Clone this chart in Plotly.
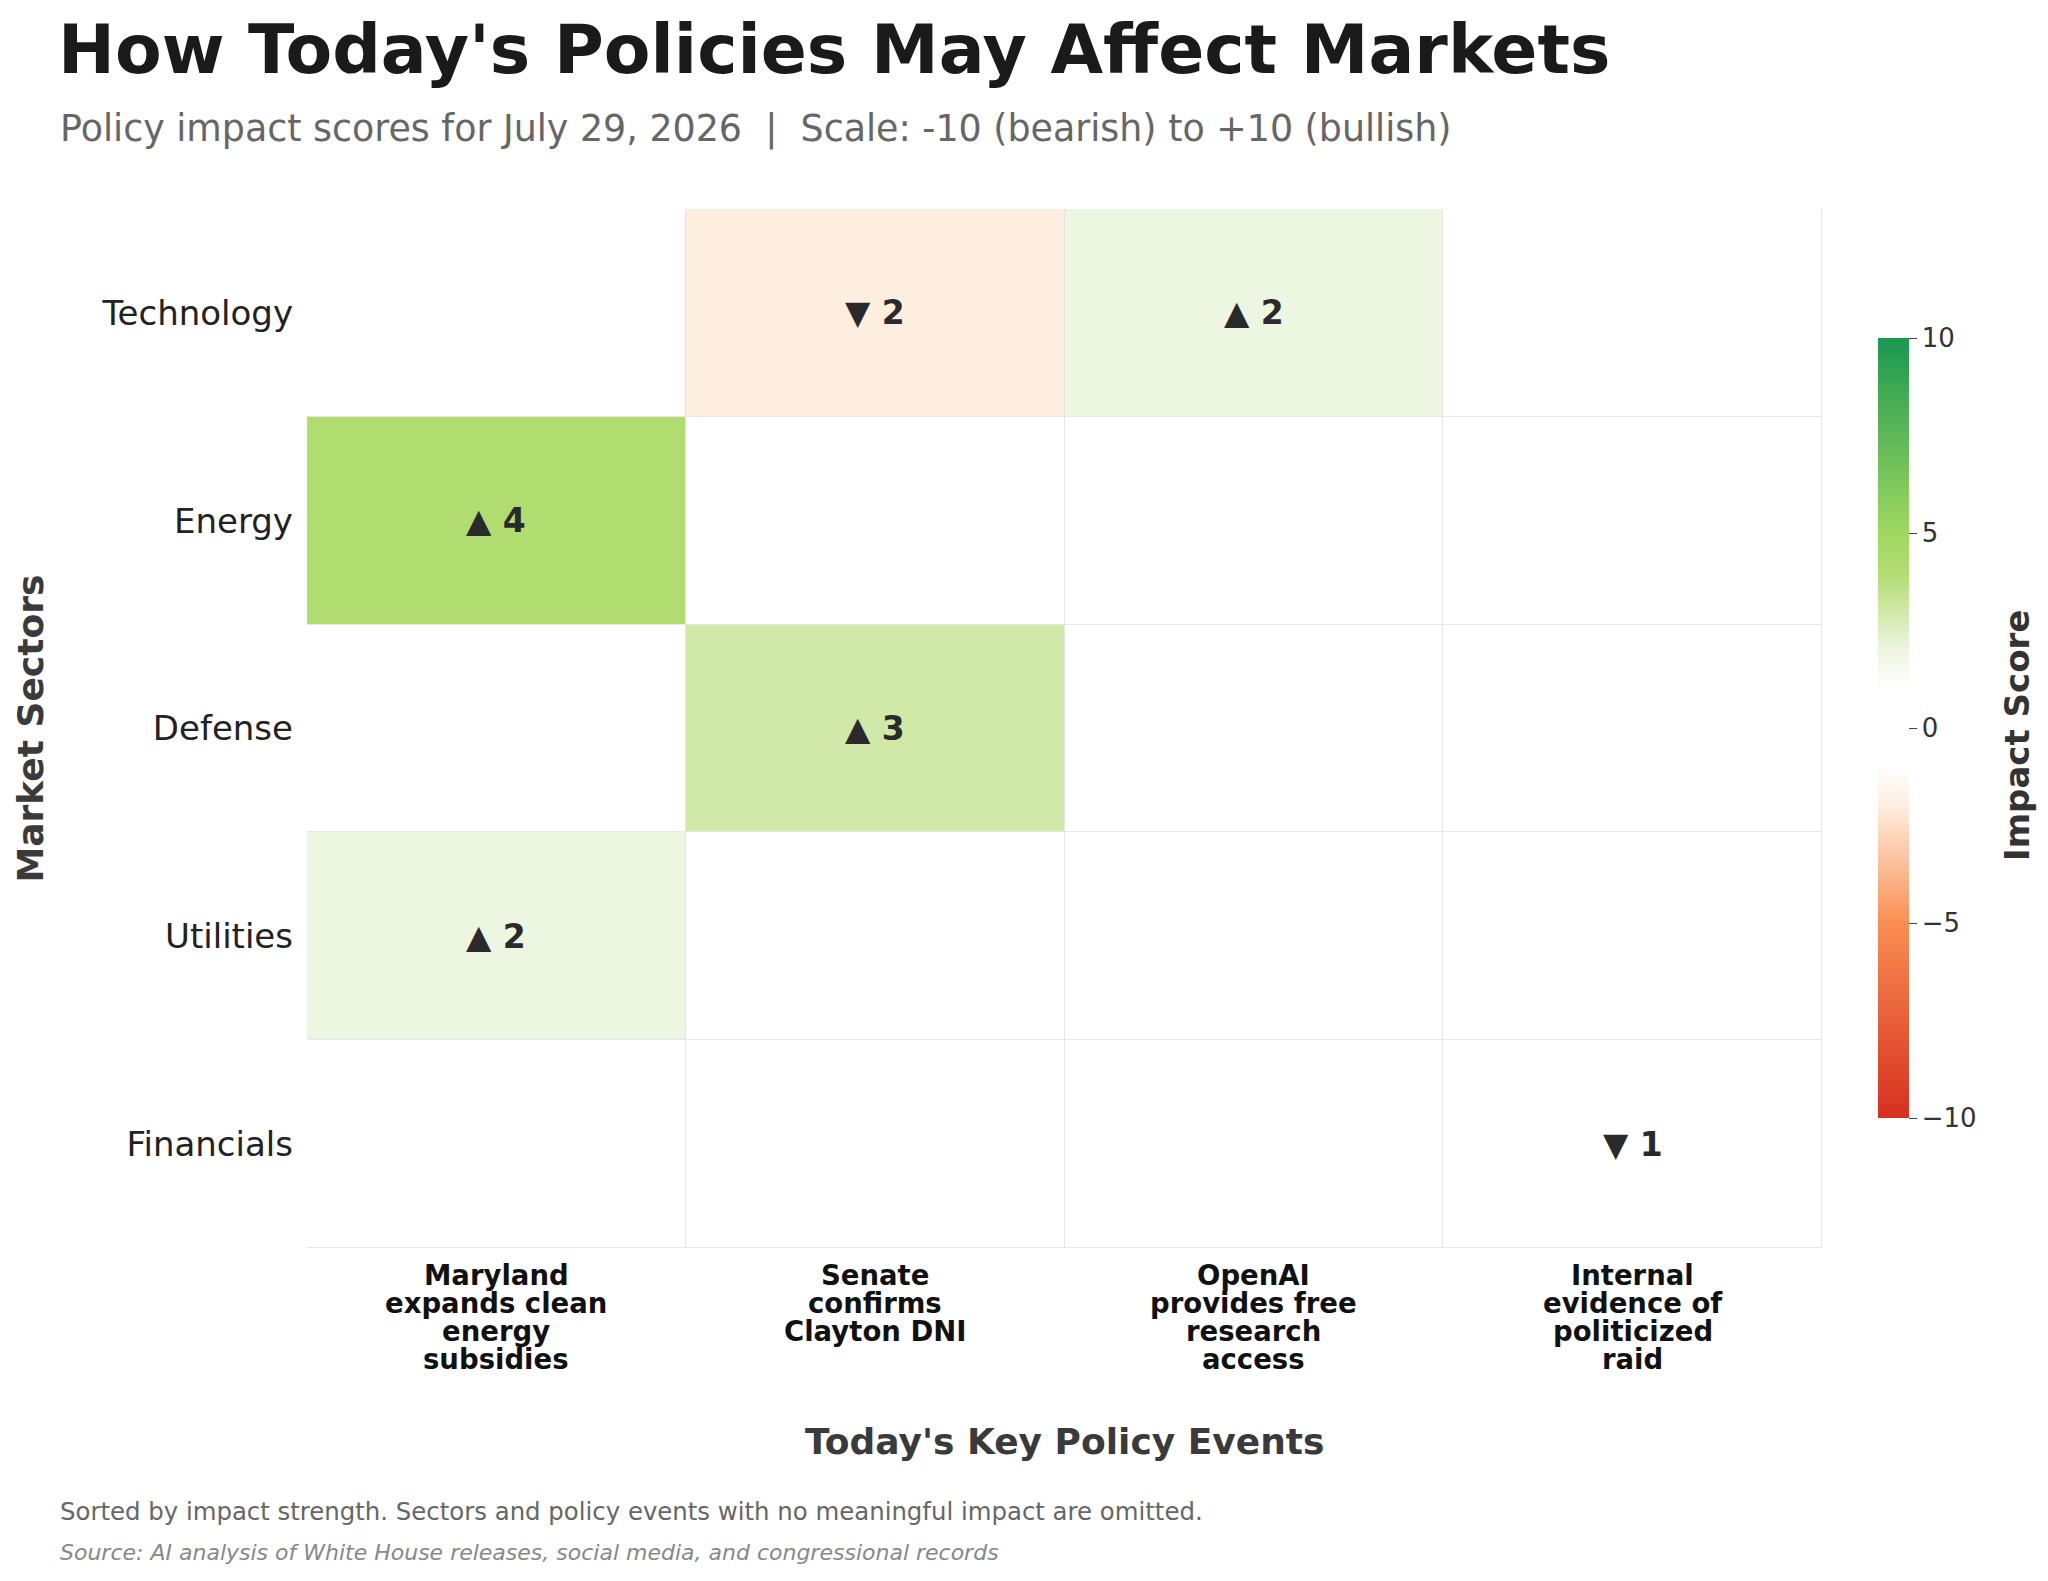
import plotly.graph_objects as go

sectors = ["Technology", "Energy", "Defense", "Utilities", "Financials"]
events = [["Maryland", "expands clean", "energy", "subsidies"],
          ["Senate", "confirms", "Clayton DNI"],
          ["OpenAI", "provides free", "research", "access"],
          ["Internal", "evidence of", "politicized", "raid"]]
scores = [[0, -2, 2, 0],
          [4, 0, 0, 0],
          [0, 3, 0, 0],
          [2, 0, 0, 0],
          [0, 0, 0, -1]]

cs = [[0.0, "#d7301f"], [0.25, "#f98e52"], [0.4, "#fdeee0"], [0.45, "#ffffff"],
      [0.55, "#ffffff"], [0.6, "#edf6e0"], [0.65, "#d0e9a8"], [0.7, "#b0dc70"],
      [0.75, "#a0d860"], [1.0, "#1a9850"]]

L, R, T, B = 299, 234, 201, 341
W, H = 2048, 1581
PW, PH = W - L - R, H - T - B
X0 = 50

fig = go.Figure(go.Heatmap(
    z=scores, x=list(range(len(events))), y=sectors, zmin=-10, zmax=10,
    colorscale=cs, xgap=1, ygap=1, hoverinfo="skip",
    colorbar=dict(x=(1860 - L) / PW, xanchor="left", y=(H - 720 - B) / PH,
                  yanchor="middle", len=800 / PH, lenmode="fraction", thickness=31,
                  tickvals=[-10, -5, 0, 5, 10], ticktext=["−10", "−5", "0", "5", "10"],
                  ticks="outside", ticklen=8, tickfont=dict(size=26, color="#333"), outlinewidth=0)))

for i, row in enumerate(scores):
    for j, v in enumerate(row):
        if v != 0:
            sym = "▲" if v > 0 else "▼"
            fig.add_annotation(x=j, y=sectors[i], text=f"<b>{sym} {abs(v)}</b>",
                               showarrow=False, font=dict(size=33, color="#2a2a2a"))

for j, lines in enumerate(events):
    for k, ln in enumerate(lines):
        fig.add_annotation(x=j, y=0, yref="paper", yshift=-(27 + k * 28), yanchor="middle",
                           text=f"<b>{ln}</b>", showarrow=False, font=dict(size=27.5, color="#111"))

fig.update_layout(
    width=W, height=H, paper_bgcolor="white", plot_bgcolor="#e6e6e6",
    font=dict(family="DejaVu Sans"),
    margin=dict(l=L, r=R, t=T, b=B),
    title=dict(text="<b>How Today's Policies May Affect Markets</b>", x=X0 / W, xanchor="left",
               y=1 - 41 / H, yanchor="middle", font=dict(size=68, color="#1a1a1a")),
    xaxis=dict(showticklabels=False, showgrid=False, zeroline=False, range=[-0.5, 3.5]),
    yaxis=dict(range=[4.5, -0.5], showgrid=False, zeroline=False, ticks="", ticklabelstandoff=13,
               tickfont=dict(size=34, color="#222")),
)
fig.add_annotation(x=0, xref="paper", xshift=2009 - L, xanchor="center", y=(H - 728 - B) / PH,
                   yref="paper", yanchor="middle", textangle=-90, showarrow=False,
                   text="<b>Impact Score</b>", font=dict(size=34, color="#333"))
fig.add_annotation(x=0, xref="paper", xshift=X0 - L, xanchor="left", y=1, yref="paper",
                   yshift=(T - 120), yanchor="middle", showarrow=False,
                   text="Policy impact scores for July 29, 2026  |  Scale: -10 (bearish) to +10 (bullish)",
                   font=dict(size=36.4, color="#666"))
fig.add_annotation(x=0.5, xref="paper", y=0, yref="paper", yshift=-(1433 - (H - B)), yanchor="middle",
                   showarrow=False, text="<b>Today's Key Policy Events</b>",
                   font=dict(size=36, color="#3a3a3a"))
fig.add_annotation(x=0, xref="paper", xshift=22 - L, xanchor="center", y=0.5, yref="paper",
                   textangle=-90, showarrow=False, text="<b>Market Sectors</b>",
                   font=dict(size=36, color="#3a3a3a"))
fig.add_annotation(x=0, xref="paper", xshift=X0 - L, xanchor="left", y=0, yref="paper",
                   yshift=-(1510 - 7 - (H - B)), yanchor="middle", showarrow=False,
                   text="Sorted by impact strength. Sectors and policy events with no meaningful impact are omitted.",
                   font=dict(size=24.4, color="#666"))
fig.add_annotation(x=0, xref="paper", xshift=X0 - L, xanchor="left", y=0, yref="paper",
                   yshift=-(1552 - 8 - (H - B)), yanchor="middle", showarrow=False,
                   text="<i>Source: AI analysis of White House releases, social media, and congressional records</i>",
                   font=dict(size=22, color="#888"))
fig.write_html("out.html")
